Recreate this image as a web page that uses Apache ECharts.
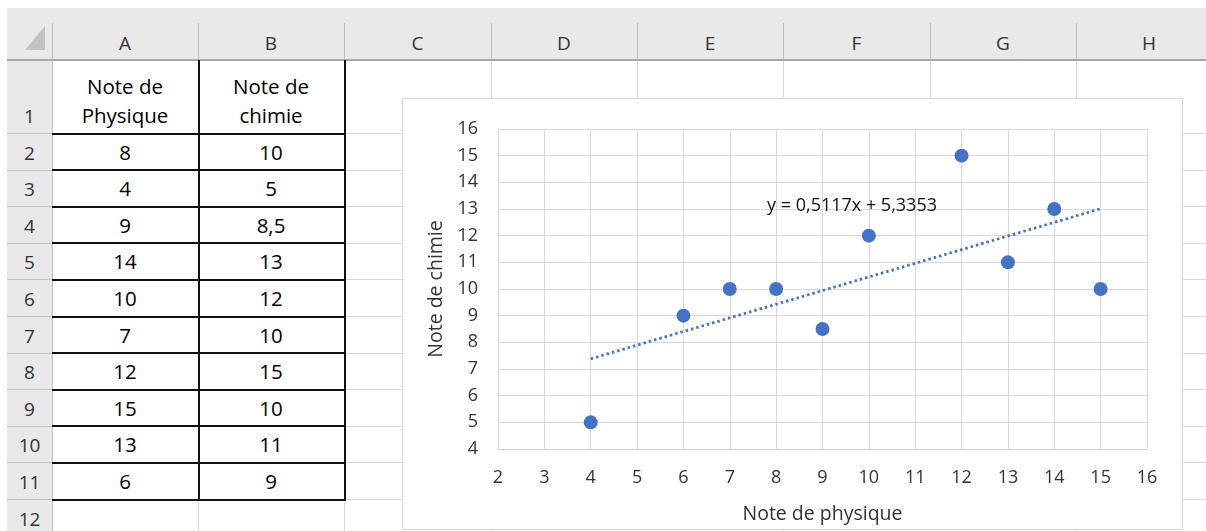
<!DOCTYPE html>
<html>
<head>
<meta charset="utf-8">
<script src="https://cdn.jsdelivr.net/npm/echarts@6/dist/echarts.min.js"></script>
<style>
  html, body { margin: 0; padding: 0; background: #fff; width: 1206px; height: 531px; overflow: hidden; font-family: "Open Sans", "Noto Sans", sans-serif; }
  .abs { position: absolute; box-sizing: border-box; }
  #chartFrame { position: absolute; left: 402px; top: 98px; width: 781px; height: 432px; border: 1px solid #d6d6d6; background: #fff; box-sizing: border-box; }
  #chart { width: 100%; height: 100%; }
</style>
</head>
<body>
<div id="sheet"></div>
<div id="chartFrame"><div id="chart"></div></div>
<script>
// ---------- data ----------
const columnLetters = ['A', 'B', 'C', 'D', 'E', 'F', 'G', 'H'];
const rowNumbers = [1, 2, 3, 4, 5, 6, 7, 8, 9, 10, 11, 12];
const headerPhysique = ['Note de', 'Physique'];
const headerChimie = ['Note de', 'chimie'];
const notePhysique = [8, 4, 9, 14, 10, 7, 12, 15, 13, 6];
const noteChimie = [10, 5, 8.5, 13, 12, 10, 15, 10, 11, 9];
const trendX = [4, 15];
const trendY = [7.3821, 13.011];
const equationText = 'y = 0,5117x + 5,3353';
const xAxisTitle = 'Note de physique';
const yAxisTitle = 'Note de chimie';

// ---------- sheet layout ----------
const colX = [52, 198, 344, 491, 637, 783, 930, 1076, 1222];
const rowY = [60, 133, 169.6, 206.2, 242.8, 279.4, 316, 352.6, 389.2, 425.8, 462.4, 499, 535.6];
const sheet = document.getElementById('sheet');
function box(l, t, w, h, css, text) {
  const d = document.createElement('div');
  d.className = 'abs';
  d.style.left = l + 'px'; d.style.top = t + 'px';
  d.style.width = w + 'px'; d.style.height = h + 'px';
  if (css) d.style.cssText += css;
  if (text !== undefined) d.textContent = text;
  sheet.appendChild(d);
  return d;
}
const fmt = v => String(v).replace('.', ',');

// header band and row header column
box(7, 8, 1199, 52, 'background:#e9e9e9;');
box(7, 60, 45, 480, 'background:#e9e9e9;');
// corner triangle
box(25, 26, 0, 0, 'border-left:20px solid transparent;border-bottom:24px solid #c3c3c3;');
// cell gridlines
rowY.forEach(y => box(52, y, 1160, 1, 'background:#d8d8d8;'));
colX.forEach(x => box(x, 60, 1, 480, 'background:#d8d8d8;'));
// header separators
colX.forEach(x => box(x, 23, 1, 37, 'background:#bdbdbd;'));
box(52, 23, 1, 37, 'background:#bdbdbd;');
rowY.forEach(y => box(7, y, 45, 1, 'background:#c4c4c4;'));
box(52, 60, 1, 480, 'background:#bdbdbd;');
box(7, 59, 1199, 2, 'background:#a9a9a9;');
// column letters
columnLetters.forEach((c, i) => {
  box(colX[i], 29, colX[i + 1] - colX[i], 28, 'text-align:center;line-height:28px;font-size:19px;color:#333;', c);
});
// row numbers
rowNumbers.forEach((n, i) => {
  const bottom = rowY[i + 1];
  box(7, bottom - 31, 45, 29, 'text-align:center;line-height:29px;font-size:19px;color:#333;', String(n));
});
// cell text
function cellText(ci, ri, lines) {
  const bottom = rowY[ri + 1];
  const h = lines.length * 29;
  const d = box(colX[ci], bottom - h - 3, colX[ci + 1] - colX[ci], h, 'text-align:center;line-height:29px;font-size:20.5px;color:#000;');
  d.innerHTML = lines.join('<br>');
}
cellText(0, 0, headerPhysique);
cellText(1, 0, headerChimie);
notePhysique.forEach((v, i) => cellText(0, i + 1, [fmt(v)]));
noteChimie.forEach((v, i) => cellText(1, i + 1, [fmt(v)]));
// black table borders
for (let i = 1; i <= 11; i++) box(52, rowY[i] - 0.5, 293, 2, 'background:#111;');
box(197.5, 60, 2, rowY[11] - 60 + 1.5, 'background:#111;');
box(343.5, 60, 2, rowY[11] - 60 + 1.5, 'background:#111;');

// ---------- chart ----------
const chart = echarts.init(document.getElementById('chart'), null, { renderer: 'canvas' });
const points = notePhysique.map((x, i) => [x, noteChimie[i]]);
const trend = trendX.map((x, i) => [x, trendY[i]]);
const textColor = '#333';
const font = '"Open Sans", "Noto Sans", sans-serif';
chart.setOption({
  animation: false,
  backgroundColor: '#fff',
  grid: { left: 95, top: 30, width: 649, height: 322 },
  xAxis: {
    type: 'value', min: 2, max: 16, interval: 1,
    name: xAxisTitle, nameLocation: 'middle', nameGap: 55,
    nameTextStyle: { fontSize: 19.5, color: textColor, fontFamily: font },
    axisLine: { show: true, lineStyle: { color: '#cfcfcf', width: 1 } },
    axisTick: { show: false },
    axisLabel: { fontSize: 18, color: textColor, fontFamily: font, margin: 20 },
    splitLine: { show: true, lineStyle: { color: '#d9d9d9', width: 1 } }
  },
  yAxis: {
    type: 'value', min: 4, max: 16, interval: 1,
    name: yAxisTitle, nameLocation: 'middle', nameGap: 52, nameRotate: 90,
    nameTextStyle: { fontSize: 19.5, color: textColor, fontFamily: font },
    axisLine: { show: true, lineStyle: { color: '#d9d9d9', width: 1 } },
    axisTick: { show: false },
    axisLabel: { fontSize: 18, color: textColor, fontFamily: font, margin: 20 },
    splitLine: { show: true, lineStyle: { color: '#d9d9d9', width: 1 } }
  },
  series: [
    {
      type: 'line', data: trend, symbol: 'none', z: 2,
      lineStyle: { color: '#4472C4', width: 2.8, type: [2.5, 3] }
    },
    {
      type: 'scatter', data: points, symbol: 'circle', symbolSize: 14, z: 3,
      itemStyle: { color: '#4472C4', opacity: 1 }
    }
  ],
  graphic: [
    {
      type: 'text', x: 449, y: 107, z: 10,
      style: { text: equationText, fontSize: 18, fill: '#111', fontFamily: font, align: 'center', verticalAlign: 'middle' }
    }
  ]
});
</script>
</body>
</html>
